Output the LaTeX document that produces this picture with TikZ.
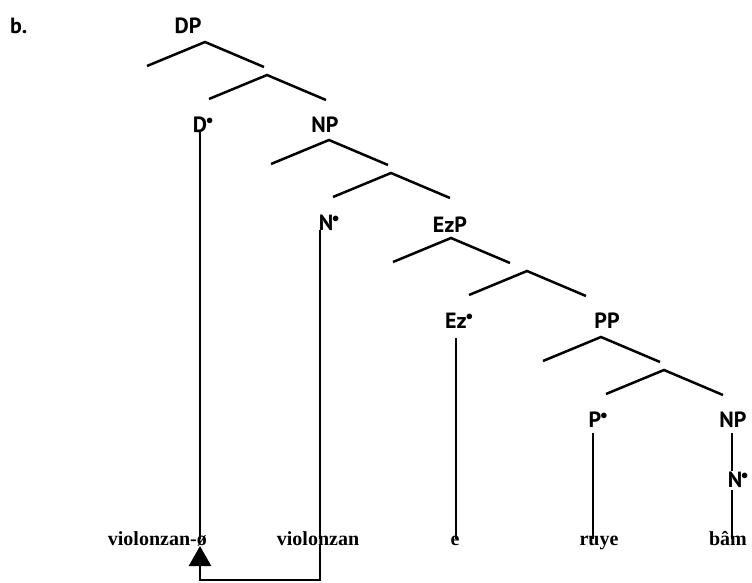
\documentclass[tikz,border=0pt]{standalone}
\usepackage{fontspec}
\usetikzlibrary{arrows.meta}
\newfontfamily\catfamily{PT Sans}
\newfontfamily\leaffamily{Liberation Serif}
\newcommand{\catfont}{\catfamily\bfseries\fontsize{22}{26}\selectfont}
\newcommand{\leaffont}{\leaffamily\bfseries\fontsize{20}{24}\selectfont}
\newcommand{\zero}{\rlap{\kern-1pt\raisebox{0.36em}{\fontsize{14}{14}\selectfont$\bullet$}}}

\begin{document}
\begin{tikzpicture}[
    x=1pt,
    y=-1pt,
    cat/.style={
        inner sep=0pt,
        anchor=base,
        font=\catfont
    },
    leaf/.style={
        inner sep=0pt,
        anchor=base,
        font=\leaffont
    },
    branch/.style={
        draw,
        line width=2.5pt
    },
    trace/.style={
        draw,
        line width=2.5pt,
        -{Triangle[length=20pt,width=22pt]}
    }
]
    \useasboundingbox (0,0) rectangle (752,582);

    % Labels
    \node [cat, anchor=base west] (label) at (10,33) {b.};
    \node [cat] (dp) at (188,33) {DP};
    \node [cat] (d) at (200,132) {D\zero};
    \node [cat] (np) at (325,132) {NP};
    \node [cat] (n) at (326,230) {N\zero};
    \node [cat] (ezp) at (450,232) {EzP};
    \node [cat] (ez) at (456,328) {Ez\zero};
    \node [cat] (pp) at (607,328) {PP};
    \node [cat] (p) at (595,427) {P\zero};
    \node [cat] (np2) at (733,427) {NP};
    \node [cat] (n2) at (735,487) {N\zero};

    % Leaves
    \node [leaf, anchor=base east] (vzo) at (207,545) {violonzan-ø};
    \node [leaf] (vz) at (318,545) {violonzan};
    \node [leaf] (e) at (455,545) {e};
    \node [leaf] (ruye) at (599,545) {ruye};
    \node [leaf] (bam) at (728,545) {bâm};

    % Branch points
    \coordinate (dp-top) at (205,42);
    \coordinate (dbar-top) at (267,75);
    \coordinate (np-top) at (329,140);
    \coordinate (nbar-top) at (391,173);
    \coordinate (ezp-top) at (451,238);
    \coordinate (ezbar-top) at (527,271);
    \coordinate (pp-top) at (601,337);
    \coordinate (pbar-top) at (664,370);
    \coordinate (leaf-top) at (0,539);
    \coordinate (trace-low) at (0,580);

    % Branches
    \foreach \top in {dp-top,dbar-top,np-top,nbar-top,ezp-top,ezbar-top,pp-top,pbar-top}
        \path [branch] ([shift={(-58,24)}]\top) -- (\top) -- ([shift={(59,25)}]\top);

    % Heads to leaves
    \path [branch] (d.south) -- (d.south |- leaf-top);
    \path [branch] ([xshift=-6pt]n.south) -- ([xshift=-6pt]n.south |- leaf-top);
    \path [branch] ([yshift=-10pt]ez.south) -- (ez.south |- leaf-top);
    \path [branch] ([shift={(-2pt,-6pt)}]p.south) -- ([xshift=-2pt]p.south |- leaf-top);
    \path [branch] ([shift={(-1pt,-6pt)}]np2.south) -- ([xshift=-1pt]np2.south |- n2.north);
    \path [branch] ([shift={(-1pt,-3pt)}]np2.south |- n2.south) -- ([xshift=-1pt]np2.south |- leaf-top);

    % Movement
    \path [trace] ([xshift=-6pt]n.south |- vz.south) -- ([xshift=-6pt]n.south |- trace-low) -- (d.south |- trace-low) -- (d.south |- vzo.south);

\end{tikzpicture}
\end{document}
